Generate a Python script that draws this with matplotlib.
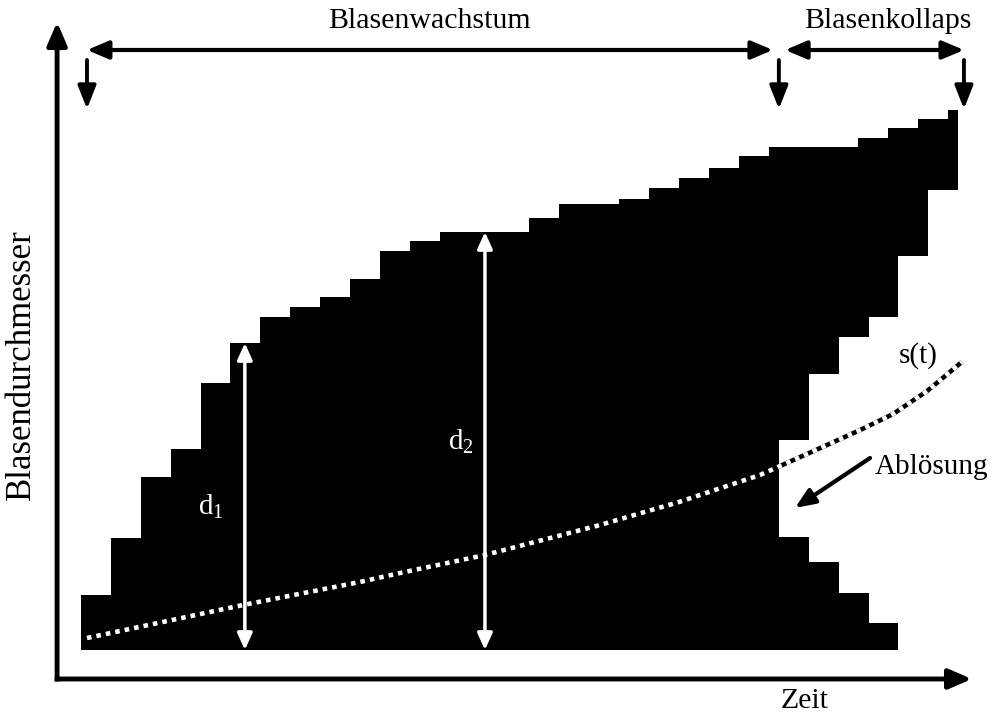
import numpy as np
import matplotlib.pyplot as plt

plt.rcParams['font.family'] = ['Liberation Serif', 'DejaVu Serif']
plt.rcParams['mathtext.fontset'] = 'custom'
plt.rcParams['mathtext.rm'] = 'Liberation Serif'
plt.rcParams['mathtext.it'] = 'Liberation Serif:italic'

# Blasendurchmesser pro Zeitschritt (Oberkante der Balken)
diameter = [5.5, 11.2, 17.3, 20.1, 26.7, 30.7, 33.3, 34.3, 35.3, 37.1,
            39.9, 40.9, 41.8, 41.8, 41.8, 43.2, 44.6, 44.6, 45.1, 46.2,
            47.2, 48.2, 49.4, 50.3, 50.3, 50.3, 51.2, 52.2, 53.1, 54.0]
step_width = [1.0] * 29 + [0.33]

# Kollapsphase: Lücke zwischen unterem Rest und abgelöster Blase
collapse_start = 23.34
lower_top = [11.3, 8.8, 5.7, 2.7, 0.0, 0.0]
upper_bottom = [21.0, 27.6, 31.3, 33.3, 39.4, 46.0]

# s(t) Kurve
s_t = [0.2, 5.42, 9.33, 10.67, 13.51, 17.36, 20.0, 22.71, 24.95, 26.06, 27.16, 28.3, 29.46]
s_val = [1.2, 4.5, 6.8, 7.7, 9.5, 12.5, 14.8, 17.5, 20.5, 22.0, 23.6, 25.9, 28.8]

fig = plt.figure(figsize=(9.96, 7.16), dpi=100)
ax = fig.add_axes([0, 0, 1, 1])
ax.set_xlim(-2.709, 30.602)
ax.set_ylim(-6.6, 65.0)
ax.axis('off')

x = np.arange(len(diameter))
ax.bar(x, diameter, width=step_width, align='edge', color='black', linewidth=0)

gap_x = collapse_start + np.arange(len(lower_top))
gap_h = np.array(upper_bottom) - np.array(lower_top)
ax.bar(gap_x, gap_h, bottom=lower_top, width=1.0, align='edge', color='white', linewidth=0)

# s(t): schwarz/weiß gestrichelt
ax.plot(s_t, s_val, color='black', lw=3.3, solid_capstyle='butt',
        solid_joinstyle='round', zorder=3)
ax.plot(s_t, s_val, color='white', lw=3.3, linestyle=(0, (1.0, 1.1)),
        dash_capstyle='butt', zorder=4)

# Achsen mit Pfeilen
axis_kw = dict(arrowstyle='-|>,head_length=1.4,head_width=0.6', lw=3.5, color='black',
               shrinkA=0, shrinkB=0, capstyle='butt')
ax.annotate('', xy=(-0.80, 62.8), xytext=(-0.80, -3.15), arrowprops=axis_kw)
ax.annotate('', xy=(29.80, -2.9), xytext=(-0.88, -2.9), arrowprops=axis_kw)

# Phasen-Pfeile oben
dbl_kw = dict(arrowstyle='<|-|>,head_length=1.3,head_width=0.55', lw=3.0, color='black',
              shrinkA=0, shrinkB=0)
ax.annotate('', xy=(23.14, 60.0), xytext=(0.2, 60.0), arrowprops=dbl_kw)
ax.annotate('', xy=(29.53, 60.0), xytext=(23.55, 60.0), arrowprops=dbl_kw)
down_kw = dict(arrowstyle='-|>,head_length=1.4,head_width=0.55', lw=2.8, color='black',
               shrinkA=0, shrinkB=0)
for xt in [0.2, 23.34, 29.53]:
    ax.annotate('', xy=(xt, 54.1), xytext=(xt, 59.0), arrowprops=down_kw)

# d1, d2 Maße
d_kw = dict(arrowstyle='<|-|>,head_length=1.0,head_width=0.45', lw=2.5, color='white',
            shrinkA=0, shrinkB=0)
ax.annotate('', xy=(5.48, diameter[5]), xytext=(5.48, 0.0), arrowprops=d_kw)
ax.annotate('', xy=(13.51, diameter[13]), xytext=(13.51, 0.0), arrowprops=d_kw)
ax.text(4.35, 14.3, r'd$_1$', color='white', fontsize=21, ha='center', va='center')
ax.text(12.7, 20.8, r'd$_2$', color='white', fontsize=21, ha='center', va='center')

# Ablösung
ax.annotate('', xy=(23.88, 14.2), xytext=(26.39, 19.2),
            arrowprops=dict(arrowstyle='-|>,head_length=1.2,head_width=0.5', lw=3.0,
                            color='black', shrinkA=0, shrinkB=0))
ax.text(26.55, 18.3, 'Ablösung', fontsize=21, ha='left', va='center')
ax.text(27.99, 29.4, 's(t)', fontsize=21, ha='center', va='center')

ax.text(11.67, 62.9, 'Blasenwachstum', fontsize=21.5, ha='center', va='center')
ax.text(26.99, 62.9, 'Blasenkollaps', fontsize=21.5, ha='center', va='center')
ax.text(24.21, -5.1, 'Zeit', fontsize=21.5, ha='center', va='center')
ax.text(-1.99, 28.5, 'Blasendurchmesser', fontsize=25, ha='center', va='center',
        rotation=90)

fig.savefig('out.png', dpi=100)
